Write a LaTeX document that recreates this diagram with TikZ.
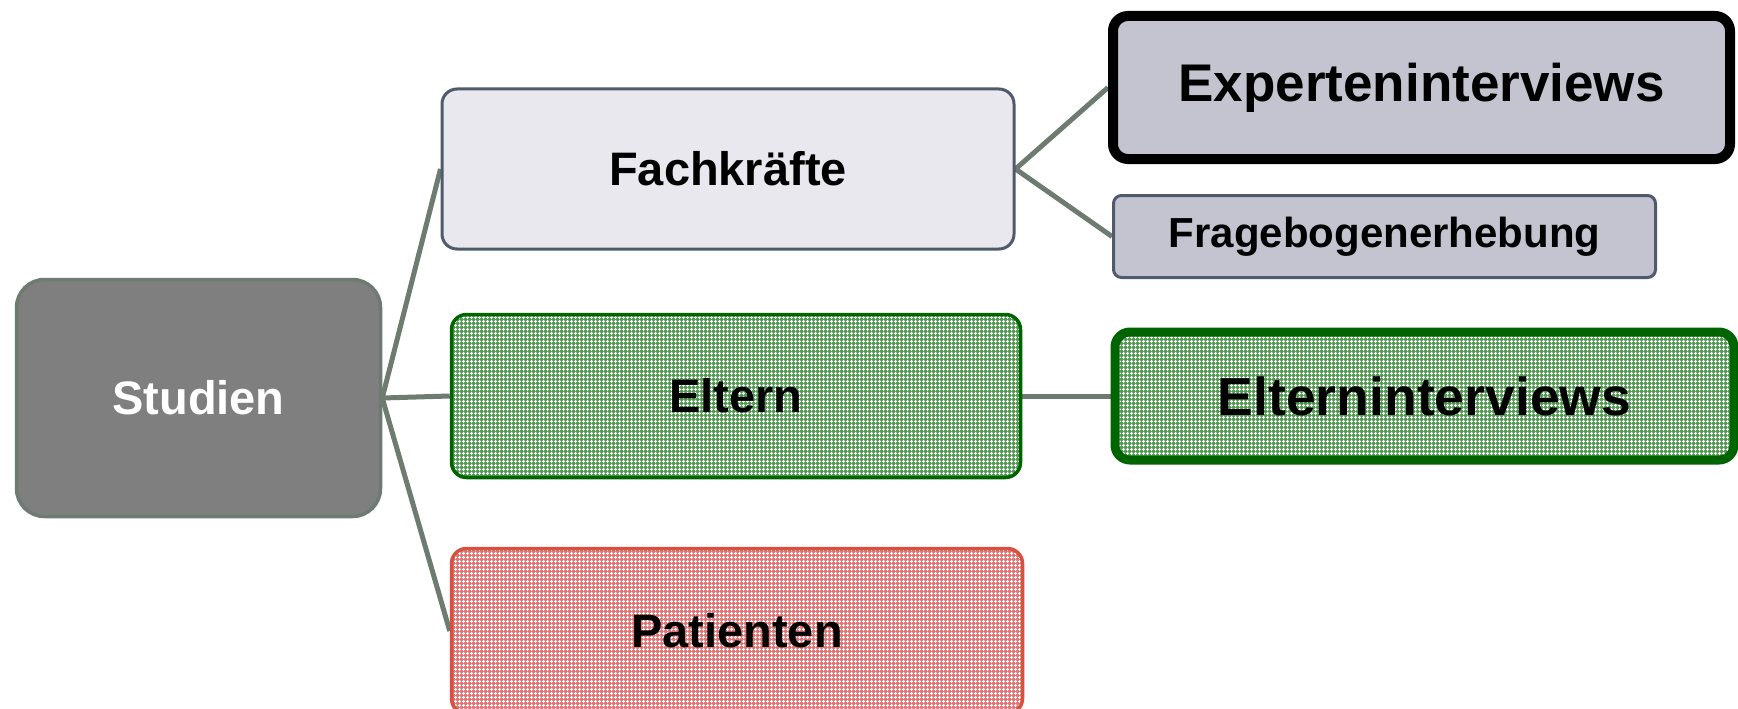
\documentclass[tikz,border=0pt]{standalone}
\usepackage{fontspec}
\setmainfont{Liberation Sans}
\usetikzlibrary{patterns.meta,backgrounds}

\definecolor{linkgray}{RGB}{110,123,112}
\definecolor{rootfill}{RGB}{127,127,127}
\definecolor{slateedge}{RGB}{79,91,107}
\definecolor{lilac}{RGB}{232,232,238}
\definecolor{lilacdark}{RGB}{196,196,208}
\definecolor{greenedge}{RGB}{0,100,0}
\definecolor{greenbase}{RGB}{80,155,80}
\definecolor{rededge}{RGB}{212,82,63}
\definecolor{redbase}{RGB}{232,112,112}

\tikzset{
  box/.style={rectangle, inner sep=0pt, align=center, font=\bfseries},
  link/.style={draw=linkgray, line width=5pt},
  plaid/.style={preaction={fill=#1},
    pattern={Hatch[distance=4pt, angle=0, line width=1pt]}, pattern color=white},
  rootbox/.style={box, fill=rootfill, draw=linkgray, line width=3.5pt,
    rounded corners=28pt, text=white, font=\bfseries\fontsize{47}{56}\selectfont},
  levelbox/.style={box, line width=3pt, rounded corners=15pt,
    font=\bfseries\fontsize{47}{56}\selectfont},
}

\begin{document}
\begin{tikzpicture}[x=1pt,y=-1pt]
\useasboundingbox (0,0) rectangle (1738,709);

% root
\node[rootbox, minimum width=364pt, minimum height=237pt] (studien) at (198.5,398) {Studien};

% second level
\node[levelbox, fill=lilac, draw=slateedge, minimum width=572pt, minimum height=160pt]
  (fach) at (728,169) {Fachkr\"afte};
\node[levelbox, plaid=greenbase, draw=greenedge, line width=3.5pt, minimum width=569pt, minimum height=163pt]
  (eltern) at (736,396) {Eltern};
\node[levelbox, plaid=redbase, draw=rededge, line width=3.5pt, minimum width=571pt, minimum height=165pt]
  (patienten) at (737,631) {Patienten};

% third level
\node[box, fill=lilacdark, draw=black, line width=10pt, rounded corners=15pt,
  minimum width=617pt, minimum height=143pt, font=\bfseries\fontsize{53}{62}\selectfont]
  (experten) at (1421.5,87.5) {Experteninterviews};
\node[box, fill=lilacdark, draw=slateedge, line width=3pt, rounded corners=8pt,
  minimum width=542pt, minimum height=82pt, font=\bfseries\fontsize{42}{50}\selectfont]
  (frage) at (1384.5,236.5) {Fragebogenerhebung};
\node[box, plaid=greenbase, draw=greenedge, line width=9pt, rounded corners=15pt,
  minimum width=619pt, minimum height=128pt, font=\bfseries\fontsize{53.5}{62}\selectfont]
  (elterninterviews) at (1424.5,396) {Elterninterviews};

% connectors
\begin{pgfonlayer}{background}
\draw[link] (studien.east) -- (fach.west);
\draw[link] (studien.east) -- (eltern.west);
\draw[link] (studien.east) -- (patienten.west);
\draw[link] (fach.east) -- (experten.west);
\draw[link] (fach.east) -- (frage.west);
\draw[link] (eltern.east) -- (elterninterviews.west);
\end{pgfonlayer}
\end{tikzpicture}
\end{document}
